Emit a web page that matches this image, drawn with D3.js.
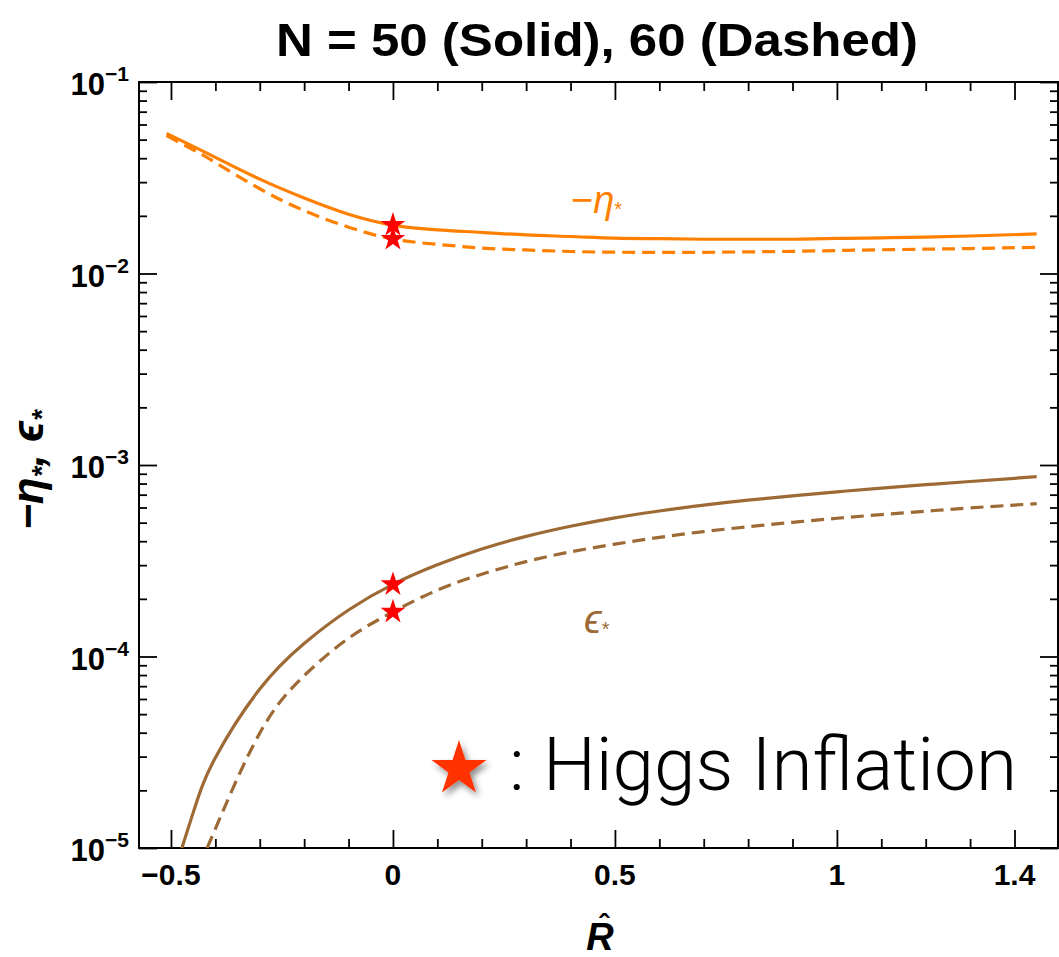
<!DOCTYPE html>
<html>
<head>
<meta charset="utf-8">
<script src="https://cdn.jsdelivr.net/npm/d3@7"></script>
<style>
  body { margin: 0; background: #fff; }
  text { font-family: "Liberation Sans", Arial, sans-serif; }
</style>
</head>
<body>
<div id="chart"></div>
<script>
// R-hat grid and the four curves
var rGrid = [-0.51, -0.45, -0.4, -0.3, -0.2, -0.1, 0, 0.1, 0.2, 0.3, 0.4, 0.5, 0.6, 0.7, 0.8, 0.9, 1.0, 1.1, 1.2, 1.3, 1.45];
var etaN50 = [0.0538, 0.0461, 0.0404, 0.0311, 0.0248, 0.0204, 0.0179, 0.0169, 0.0164, 0.0159, 0.0156, 0.0153, 0.0152, 0.0151, 0.0151, 0.0151, 0.01524, 0.01535, 0.0155, 0.0157, 0.0161];
var etaN60 = [0.0525, 0.0443, 0.0380, 0.0277, 0.0213, 0.01746, 0.01513, 0.0142, 0.01358, 0.01327, 0.01303, 0.01292, 0.0129, 0.0129, 0.01297, 0.01305, 0.01318, 0.0133, 0.0134, 0.0135, 0.01371];
var epsN50 = [5.6e-6, 1.53e-5, 2.96e-5, 6.76e-5, 1.17e-4, 1.75e-4, 2.38e-4, 3.01e-4, 3.64e-4, 4.24e-4, 4.79e-4, 5.30e-4, 5.75e-4, 6.17e-4, 6.55e-4, 6.90e-4, 7.24e-4, 7.57e-4, 7.89e-4, 8.20e-4, 8.69e-4];
var epsN60 = [2.0e-6, 6.3e-6, 1.26e-5, 3.98e-5, 7.94e-5, 1.245e-4, 1.71e-4, 2.22e-4, 2.69e-4, 3.13e-4, 3.52e-4, 3.86e-4, 4.19e-4, 4.49e-4, 4.76e-4, 5.02e-4, 5.27e-4, 5.51e-4, 5.74e-4, 5.97e-4, 6.28e-4];

// Higgs inflation points (R = 0)
var starR = [0, 0, 0, 0];
var starV = [0.0179, 0.01513, 2.38e-4, 1.71e-4];

// ticks
var xMajor = [-0.5, 0, 0.5, 1, 1.4];
var xMajorLabels = ["\u22120.5", "0", "0.5", "1", "1.4"];
var xMinor = [-0.4, -0.3, -0.2, -0.1, 0.1, 0.2, 0.3, 0.4, 0.6, 0.7, 0.8, 0.9, 1.1, 1.2, 1.3];
var yExponents = [-1, -2, -3, -4, -5];

var W = 1059, H = 957;
var pLeft = 139, pRight = 1058, pTop = 82, pBottom = 848;

var svg = d3.select("#chart").append("svg")
    .attr("width", W)
    .attr("height", H);

var x = d3.scaleLinear().domain([-0.572, 1.498]).range([pLeft, pRight]);
var y = d3.scaleLog().domain([1e-5, 1e-1]).range([pBottom, pTop]);

var yMajor = yExponents.map(function(e) { return Math.pow(10, e); });
var yMinor = [];
[-5, -4, -3, -2].forEach(function(e) {
  for (var m = 2; m <= 9; m++) yMinor.push(m * Math.pow(10, e));
});

var defs = svg.append("defs");
defs.append("clipPath").attr("id", "plotclip")
  .append("rect")
    .attr("x", pLeft).attr("y", pTop)
    .attr("width", pRight - pLeft).attr("height", pBottom - pTop);

var shadow = defs.append("filter").attr("id", "shadow")
    .attr("x", "-50%").attr("y", "-50%").attr("width", "200%").attr("height", "200%");
shadow.append("feDropShadow")
    .attr("dx", 3).attr("dy", 4).attr("stdDeviation", 3)
    .attr("flood-color", "#000").attr("flood-opacity", 0.45);

// title
svg.append("text")
    .attr("x", 597).attr("y", 56)
    .attr("text-anchor", "middle")
    .attr("textLength", 642)
    .attr("lengthAdjust", "spacingAndGlyphs")
    .style("font-weight", "bold")
    .style("font-size", "46px")
    .text("N = 50 (Solid), 60 (Dashed)");

// ticks (all pointing inward)
function tickGroup(axis, tx, ty) {
  var g = svg.append("g")
    .attr("transform", "translate(" + tx + "," + ty + ")")
    .call(axis);
  g.select(".domain").remove();
  g.selectAll(".tick line").attr("stroke", "#000").attr("stroke-width", 1.8);
  g.selectAll(".tick text").remove();
  return g;
}
tickGroup(d3.axisBottom(x).tickValues(xMajor).tickSize(-18), 0, pBottom);
tickGroup(d3.axisBottom(x).tickValues(xMinor).tickSize(-9), 0, pBottom);
tickGroup(d3.axisTop(x).tickValues(xMajor).tickSize(-18), 0, pTop);
tickGroup(d3.axisTop(x).tickValues(xMinor).tickSize(-9), 0, pTop);
tickGroup(d3.axisLeft(y).tickValues(yMajor).tickSize(-18), pLeft, 0);
tickGroup(d3.axisLeft(y).tickValues(yMinor).tickSize(-8), pLeft, 0);
tickGroup(d3.axisRight(y).tickValues(yMajor).tickSize(-18), pRight, 0);
tickGroup(d3.axisRight(y).tickValues(yMinor).tickSize(-8), pRight, 0);

// frame
svg.append("rect")
    .attr("x", pLeft).attr("y", pTop)
    .attr("width", pRight - pLeft).attr("height", pBottom - pTop)
    .attr("fill", "none")
    .attr("stroke", "#000")
    .attr("stroke-width", 2);

// x tick labels
svg.append("g").selectAll("text")
  .data(xMajor)
  .enter().append("text")
    .attr("x", function(d) { return x(d); })
    .attr("y", 885)
    .attr("text-anchor", "middle")
    .style("font-weight", "bold")
    .style("font-size", "30px")
    .text(function(d, i) { return xMajorLabels[i]; });

// y tick labels 10^n
var yl = svg.append("g").selectAll("text")
  .data(yExponents)
  .enter().append("text")
    .attr("x", 129)
    .attr("y", function(d) { return y(Math.pow(10, d)) + 13; })
    .attr("text-anchor", "end")
    .style("font-weight", "bold");
yl.append("tspan").style("font-size", "31px").text("10");
yl.append("tspan").style("font-size", "21px").attr("dy", -14)
  .text(function(d) { return "\u2212" + (-d); });

// axis titles
var ylab = svg.append("text")
    .attr("transform", "translate(43,470) rotate(-90)")
    .attr("text-anchor", "middle")
    .style("font-weight", "bold")
    .style("font-style", "italic")
    .style("font-size", "44px");
ylab.append("tspan").text("\u2212\u03b7");
ylab.append("tspan").attr("dy", 8).style("font-size", "28px").text("*");
ylab.append("tspan").attr("dy", -8).text(", \u03f5");
ylab.append("tspan").attr("dy", 8).style("font-size", "28px").text("*");

svg.append("text")
    .attr("x", 600).attr("y", 950)
    .attr("text-anchor", "middle")
    .style("font-weight", "bold")
    .style("font-style", "italic")
    .style("font-size", "38px")
    .text("R");
svg.append("text")
    .attr("x", 604).attr("y", 935)
    .attr("text-anchor", "middle")
    .style("font-weight", "bold")
    .style("font-size", "30px")
    .text("\u02c6");

// curves
var orange = "#ff8000", brown = "#9d6a35";
var series = [
  { v: etaN50, color: orange, dash: null },
  { v: etaN60, color: orange, dash: "13,7" },
  { v: epsN50, color: brown, dash: null },
  { v: epsN60, color: brown, dash: "13,7" }
];
var line = d3.line()
    .x(function(d) { return x(d[0]); })
    .y(function(d) { return y(d[1]); })
    .curve(d3.curveNatural);

var plot = svg.append("g").attr("clip-path", "url(#plotclip)");
plot.selectAll("path.curve")
  .data(series)
  .enter().append("path")
    .attr("class", "curve")
    .attr("d", function(s) { return line(rGrid.map(function(r, i) { return [r, s.v[i]]; })); })
    .attr("fill", "none")
    .attr("stroke", function(s) { return s.color; })
    .attr("stroke-width", 3.2)
    .attr("stroke-dasharray", function(s) { return s.dash; });

// stars
var star = d3.symbol().type(d3.symbolStar);
plot.selectAll("path.star")
  .data(starV)
  .enter().append("path")
    .attr("class", "star")
    .attr("d", star.size(190)())
    .attr("transform", function(d, i) { return "translate(" + x(starR[i]) + "," + y(d) + ")"; })
    .attr("fill", "#ff0000");

// curve labels
var le = svg.append("text")
    .attr("x", 571).attr("y", 213)
    .attr("fill", orange)
    .style("font-size", "38px");
le.append("tspan").text("\u2212");
le.append("tspan").style("font-style", "italic").text("\u03b7");
le.append("tspan").attr("dy", 3).style("font-size", "20px").text("*");

var lp = svg.append("text")
    .attr("x", 584).attr("y", 633)
    .attr("fill", brown)
    .style("font-size", "40px");
lp.append("tspan").style("font-style", "italic").text("\u03f5");
lp.append("tspan").attr("dy", 3).style("font-size", "20px").text("*");

// legend
svg.append("path")
    .attr("d", d3.symbol().type(d3.symbolStar).size(940)())
    .attr("transform", "translate(459,769)")
    .attr("fill", "#ff3300")
    .attr("filter", "url(#shadow)");
svg.append("text")
    .attr("x", 509).attr("y", 790)
    .attr("textLength", 508)
    .attr("lengthAdjust", "spacingAndGlyphs")
    .style("font-family", "Roboto, 'Liberation Sans', sans-serif")
    .style("font-weight", 300)
    .style("font-size", "75px")
    .text(": Higgs Inflation");
</script>
</body>
</html>
